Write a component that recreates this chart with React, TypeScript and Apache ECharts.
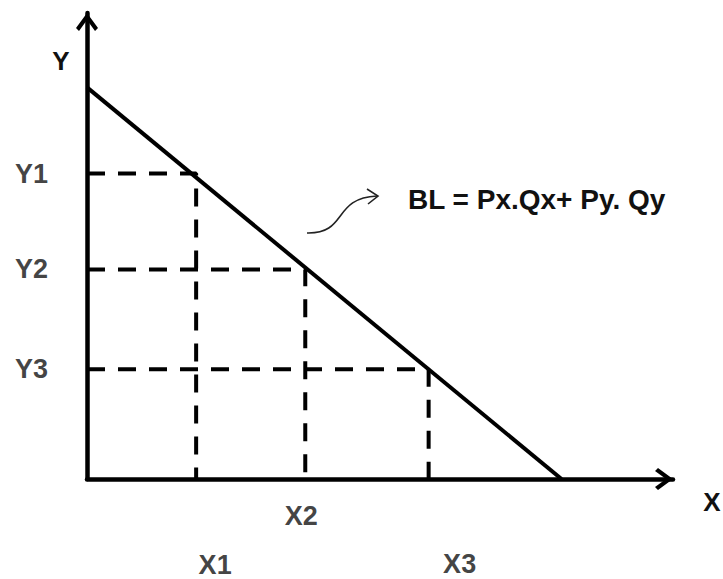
import React, { useEffect, useRef } from 'react';
import * as echarts from 'echarts';

// Budget line endpoints (intercepts on Y and X axes)
const budgetLine: number[][] = [[0, 10], [10, 0]];
// Consumption bundles on the budget line
const xValues = [2.3, 4.6, 7.2];
const yValues = [7.8, 5.35, 2.8];
const xLabels = ['X1', 'X2', 'X3'];
const yLabels = ['Y1', 'Y2', 'Y3'];
const xAxisName = 'X';
const yAxisName = 'Y';
const equation = 'BL = Px.Qx+ Py. Qy';
const xMax = 12.35;
const yMax = 11.9;

// label layout (pixel offsets from the bundle's foot on the X axis)
const xLabelOffsets: number[][] = [[19, 86], [-4, 37], [31, 85]];

const FONT = '"Liberation Sans", Arial, Helvetica, sans-serif';
const chevron = 'path://M11,0 L22,15 L19,18 L11,7 L3,18 L0,15 Z';

export default function App() {
  const ref = useRef<HTMLDivElement>(null);
  useEffect(() => {
    document.body.style.margin = '0';
    const chart = echarts.init(ref.current!, null, { renderer: 'svg' });

    const dashedSeries = xValues.map((x, i) => ({
      type: 'line',
      data: [[0, yValues[i]], [x, yValues[i]], [x, 0]],
      symbol: 'none',
      silent: true,
      z: 2,
      lineStyle: { color: '#000', width: 4, type: [18, 13] },
    }));

    chart.setOption({
      animation: false,
      backgroundColor: '#fff',
      grid: { left: 87, right: 50, top: 13, bottom: 100 },
      xAxis: {
        type: 'value', min: 0, max: xMax,
        splitLine: { show: false }, axisTick: { show: false }, axisLabel: { show: false },
        axisLine: {
          onZero: false,
          lineStyle: { color: '#000', width: 4.5 },
          symbol: ['none', chevron], symbolSize: [22, 18], symbolOffset: [0, -9],
        },
      },
      yAxis: {
        type: 'value', min: 0, max: yMax,
        splitLine: { show: false }, axisTick: { show: false }, axisLabel: { show: false },
        axisLine: {
          show: true, onZero: false,
          lineStyle: { color: '#000', width: 4.5 },
          symbol: ['none', chevron], symbolSize: [22, 18], symbolOffset: [0, -9],
        },
      },
      series: [
        ...dashedSeries,
        {
          type: 'line',
          data: budgetLine,
          symbol: 'none',
          silent: true,
          z: 3,
          lineStyle: { color: '#000', width: 4 },
        },
        {
          type: 'scatter',
          symbolSize: 0,
          silent: true,
          data: yValues.map((y, i) => ({ value: [0, y], name: yLabels[i] })),
          label: {
            show: true, position: 'left', distance: 39, formatter: '{b}',
            color: '#111', fontFamily: FONT, fontWeight: 'bold', fontSize: 27,
          },
        },
        {
          type: 'scatter',
          symbolSize: 0,
          silent: true,
          data: xValues.map((x, i) => ({
            value: [x, 0], name: xLabels[i],
            label: { offset: xLabelOffsets[i] },
          })),
          label: {
            show: true, position: 'inside', formatter: '{b}',
            color: '#111', fontFamily: FONT, fontWeight: 'bold', fontSize: 27,
          },
        },
      ],
      graphic: [
        {
          type: 'text', x: 61, y: 61,
          style: { text: yAxisName, fill: '#111', font: `bold 26px ${FONT}`, align: 'center', verticalAlign: 'middle' },
        },
        {
          type: 'text', x: 712, y: 502,
          style: { text: xAxisName, fill: '#111', font: `bold 26px ${FONT}`, align: 'center', verticalAlign: 'middle' },
        },
        {
          type: 'text', x: 408, y: 199,
          style: { text: equation, fill: '#111', font: `bold 28px ${FONT}`, align: 'left', verticalAlign: 'middle' },
        },
        {
          type: 'bezierCurve',
          shape: { x1: 307, y1: 233, cpx1: 348, cpy1: 234, cpx2: 332, cpy2: 198, x2: 377, y2: 196 },
          style: { stroke: '#222', lineWidth: 1.6, fill: null },
        },
        {
          type: 'polyline',
          shape: { points: [[367, 189], [378, 196], [368, 204]] },
          style: { stroke: '#222', lineWidth: 1.6, fill: null },
        },
      ],
    });
    return () => chart.dispose();
  }, []);
  return <div ref={ref} style={{ width: 723, height: 579, position: 'absolute', left: 0, top: 0 }} />;
}
